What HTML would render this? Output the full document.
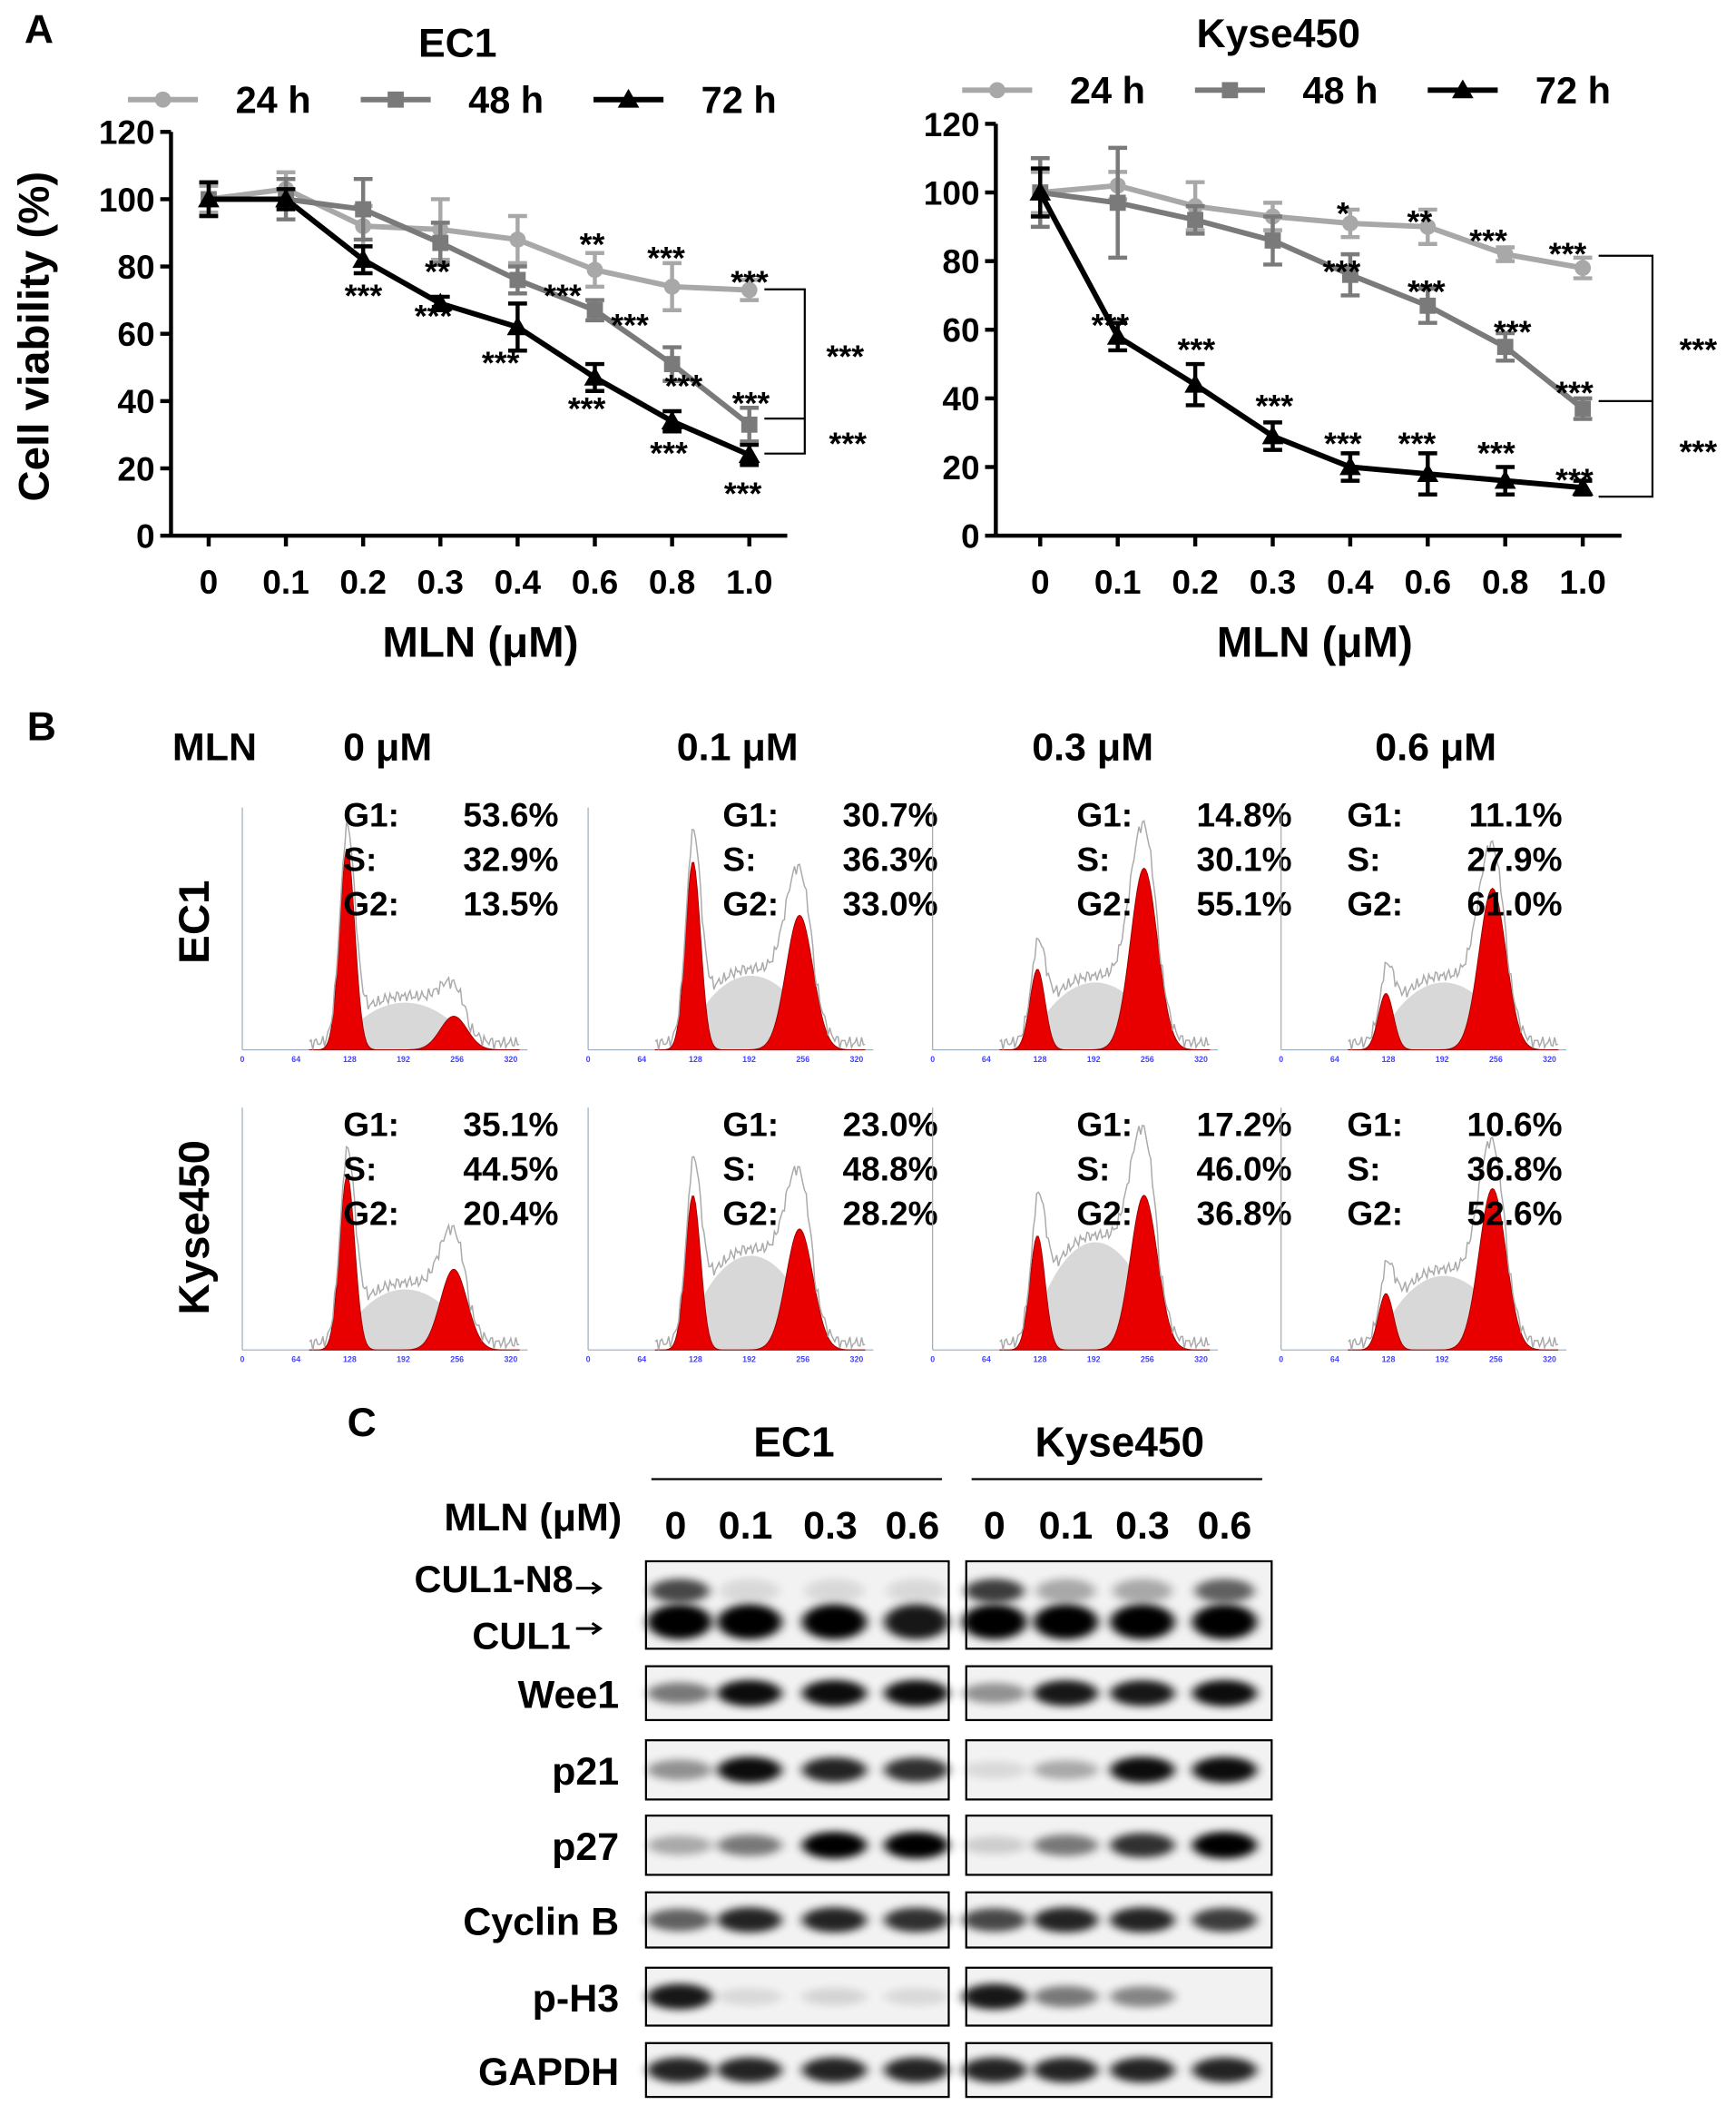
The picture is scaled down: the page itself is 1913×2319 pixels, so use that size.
<!DOCTYPE html>
<html><head><meta charset="utf-8"><style>
html,body{margin:0;padding:0;background:#fff}
svg{display:block}
text{font-family:"Liberation Sans",Arial,sans-serif;font-weight:bold}
</style></head><body>
<svg id="fig" xmlns="http://www.w3.org/2000/svg" width="1913" height="2319" viewBox="0 0 1290 1564">
<defs>
<filter id="blur" x="-50%" y="-100%" width="200%" height="300%"><feGaussianBlur stdDeviation="4 3"/></filter>
</defs>
<g id="panelA"></g>
<g id="panelB"></g>
<g id="panelC"></g>
</svg>
<script>
const NS="http://www.w3.org/2000/svg";
function mk(p,tag,attrs,txt){const e=document.createElementNS(NS,tag);for(const k in attrs)e.setAttribute(k,attrs[k]);if(txt!==undefined)e.textContent=txt;p.appendChild(e);return e;}

// ---- Panel A data ----
const doses=["0","0.1","0.2","0.3","0.4","0.6","0.8","1.0"];
const yTicks=[0,20,40,60,80,100,120];
const ec1_24=[100,103,92,91,88,79,74,73];
const ec1_24e=[4,5,6,9,7,5,7,3];
const ec1_48=[100,100,97,87,76,67,51,33];
const ec1_48e=[5,6,9,6,4,3,5,5];
const ec1_72=[100,100,82,69,62,47,34,24];
const ec1_72e=[5,3,4,2,7,4,3,3];
const ky_24=[100,102,96,93,91,90,82,78];
const ky_24e=[6,4,7,4,4,5,2,3];
const ky_48=[100,97,92,86,76,67,55,37];
const ky_48e=[10,16,4,7,6,5,4,3];
const ky_72=[100,58,44,29,20,18,16,14];
const ky_72e=[7,4,6,4,4,6,4,2];

const A=document.getElementById('panelA');
mk(A,'text',{x:18,y:32,'font-size':30,},'A');

function chart(cfg){
  const g=mk(A,'g',{});
  
  
  const X=i=>cfg.x0+i*cfg.dx, Y=v=>cfg.yb-v*(cfg.yb-cfg.yt)/120;
  mk(g,'text',{x:cfg.titleX,y:cfg.titleY,'font-size':30,'text-anchor':'middle',},cfg.title);
  mk(g,'line',{x1:cfg.ax,y1:Y(120),x2:cfg.ax,y2:cfg.yb,stroke:'#000','stroke-width':3});
  mk(g,'line',{x1:cfg.ax,y1:cfg.yb,x2:cfg.xe,y2:cfg.yb,stroke:'#000','stroke-width':3});
  yTicks.forEach(t=>{mk(g,'line',{x1:cfg.ax-8,y1:Y(t),x2:cfg.ax,y2:Y(t),stroke:'#000','stroke-width':3});
    const tl=mk(g,'text',{x:cfg.ax-12,y:Y(t)+9,'font-size':25,'text-anchor':'end'},t);
    });
  doses.forEach((d,i)=>{mk(g,'line',{x1:X(i),y1:cfg.yb,x2:X(i),y2:cfg.yb+8,stroke:'#000','stroke-width':3});
    const tl=mk(g,'text',{x:X(i),y:cfg.yb+43,'font-size':25,'text-anchor':'middle'},d);
    });
  mk(g,'text',{x:cfg.xlabX,y:cfg.yb+90,'font-size':32,'text-anchor':'middle',},'MLN (μM)');
  const series=[[cfg.s24,cfg.e24,'#a8a8a8','circle','24 h'],[cfg.s48,cfg.e48,'#7a7a7a','square','48 h'],[cfg.s72,cfg.e72,'#000','tri','72 h']];
  series.forEach((s,si)=>{
    const sg=mk(g,'g',{});
    
    
    mk(sg,'polyline',{points:s[0].map((v,i)=>X(i)+','+Y(v)).join(' '),fill:'none',stroke:s[2],'stroke-width':4});
    s[0].forEach((v,i)=>{
      const x=X(i),y1=Y(v+s[1][i]),y2=Y(v-s[1][i]);
      mk(sg,'path',{d:`M${x},${y1}V${y2}M${x-7},${y1}H${x+7}M${x-7},${y2}H${x+7}`,stroke:s[2],'stroke-width':3,fill:'none'});
      marker(sg,s[3],x,Y(v),s[2]);
    });
    const lx=cfg.legX+si*cfg.legDx, ly=cfg.legY;
    const lg=mk(g,'g',{});
    
    
    mk(lg,'line',{x1:lx,y1:ly,x2:lx+52,y2:ly,stroke:s[2],'stroke-width':4});
    marker(lg,s[3],lx+26,ly,s[2]);
    mk(lg,'text',{x:lx+80,y:ly+10,'font-size':28},s[4]);
  });
  cfg.stars.forEach(s=>{const t=mk(g,'text',{x:s[0],y:s[1],'font-size':24,'text-anchor':'middle'},s[2]);});
  cfg.brackets.forEach(b=>mk(g,'path',{d:`M${b[0]},${b[1]}H${b[2]}V${b[3]}H${b[0]}`,fill:'none',stroke:'#000','stroke-width':1.5}));
}
function marker(p,type,x,y,c){
  if(type==='circle')mk(p,'circle',{cx:x,cy:y,r:6,fill:c});
  else if(type==='square')mk(p,'rect',{x:x-6,y:y-6,width:12,height:12,fill:c});
  else mk(p,'path',{d:`M${x},${y-8}L${x+8},${y+6}L${x-8},${y+6}Z`,fill:c});
}
chart({name:'ec1-viability-chart',title:'EC1',titleX:340,titleY:42,ax:127,xe:585,x0:155,dx:57.4,yt:98,yb:398,
  s24:ec1_24,e24:ec1_24e,s48:ec1_48,e48:ec1_48e,s72:ec1_72,e72:ec1_72e,legX:95,legY:74,legDx:173,xlabX:357,
  stars:[[270,228,'***'],[325,210,'**'],[322,243,'***'],[372,278,'***'],[418,228,'***'],[440,190,'**'],[436,312,'***'],[468,250,'***'],[495,200,'***'],[497,345,'***'],[508,295,'***'],[552,375,'***'],[557,218,'***'],[558,308,'***'],[628,273,'***'],[630,338,'***']],
  brackets:[[568,215,598,337],[568,311,598,311]]});
chart({name:'kyse450-viability-chart',title:'Kyse450',titleX:950,titleY:35,ax:740,xe:1205,x0:773,dx:57.6,yt:92,yb:398,
  s24:ky_24,e24:ky_24e,s48:ky_48,e48:ky_48e,s72:ky_72,e72:ky_72e,legX:715,legY:67,legDx:173,xlabX:977,
  stars:[[825,250,'***'],[889,268,'***'],[947,310,'***'],[998,167,'*'],[997,210,'***'],[998,338,'***'],[1055,173,'**'],[1060,225,'***'],[1053,338,'***'],[1106,187,'***'],[1124,255,'***'],[1112,345,'***'],[1165,197,'***'],[1170,300,'***'],[1170,365,'***'],[1262,268,'***'],[1262,344,'***']],
  brackets:[[1188,190,1228,369],[1188,298,1228,298]]});
mk(A,'text',{x:0,y:0,'font-size':32,'text-anchor':'middle',transform:'translate(36,250) rotate(-90)',},'Cell viability (%)');

// ---- Panel B ----
const B=document.getElementById('panelB');
mk(B,'text',{x:20,y:550,'font-size':30,},'B');
mk(B,'text',{x:128,y:565,'font-size':29,},'MLN');
const concs=["0 μM","0.1 μM","0.3 μM","0.6 μM"];
const concX=[288,548,812,1067];
const g1Heights=[[150,140,60,42],[130,115,85,42]];
const g2Heights=[[25,100,135,120],[60,90,115,120]];
const sHeights=[[35,55,50,50],[45,70,80,55]];
const pctG1=[["53.6%","30.7%","14.8%","11.1%"],["35.1%","23.0%","17.2%","10.6%"]];
const pctS=[["32.9%","36.3%","30.1%","27.9%"],["44.5%","48.8%","46.0%","36.8%"]];
const pctG2=[["13.5%","33.0%","55.1%","61.0%"],["20.4%","28.2%","36.8%","52.6%"]];
const colX=[180,437,693,952];
const rowBase=[780,1003];
concs.forEach((c,i)=>{const t=mk(B,'text',{x:concX[i],y:565,'font-size':29,'text-anchor':'middle'},c);});
mk(B,'text',{x:0,y:0,'font-size':32,'text-anchor':'middle',transform:'translate(155,685) rotate(-90)',},'EC1');
mk(B,'text',{x:0,y:0,'font-size':32,'text-anchor':'middle',transform:'translate(155,912) rotate(-90)',},'Kyse450');
function gauss(x,mu,s){return Math.exp(-0.5*((x-mu)/s)**2);}
for(let r=0;r<2;r++)for(let c=0;c<4;c++){
  const h=mk(B,'g',{});
  
  
  const x0=colX[c],base=rowBase[r],w=212,sc=w/340;
  const X=v=>x0+v*sc;
  const g1=g1Heights[r][c],g2=g2Heights[r][c],sh=sHeights[r][c];
  mk(h,'line',{x1:x0,y1:base-180,x2:x0,y2:base,stroke:'#9ab','stroke-width':0.8});
  mk(h,'line',{x1:x0,y1:base,x2:x0+w,y2:base,stroke:'#9ab','stroke-width':0.8});
  [0,64,128,192,256,320].forEach(t=>mk(h,'text',{x:X(t),y:base+9,'font-size':6,fill:'#44f','text-anchor':'middle','font-weight':'normal'},t));
  let sp=[],g1p=[],g2p=[],env=[];
  for(let v=80;v<=330;v+=2){
    let sv=0;
    if(v>118&&v<270){const t=(v-118)/(270-118);sv=sh*Math.pow(Math.sin(Math.PI*t),0.6);}
    const a=g1*gauss(v,125,9), b=g2*gauss(v,252,16);
    sp.push(X(v)+','+(base-sv));
    g1p.push(X(v)+','+(base-a));
    g2p.push(X(v)+','+(base-b));
    const tot=Math.max(sv,0)+a+b;
    env.push(X(v)+','+(base-tot-5*Math.abs(Math.sin(v*0.9))-3*Math.sin(v*2.3)-2));
  }
  mk(h,'polygon',{points:X(80)+','+base+' '+sp.join(' ')+' '+X(330)+','+base,fill:'#d8d8d8'});
  mk(h,'polygon',{points:X(80)+','+base+' '+g1p.join(' ')+' '+X(330)+','+base,fill:'#e80000',stroke:'#900','stroke-width':0.6});
  mk(h,'polygon',{points:X(80)+','+base+' '+g2p.join(' ')+' '+X(330)+','+base,fill:'#e80000',stroke:'#900','stroke-width':0.6});
  mk(h,'polyline',{points:env.join(' '),fill:'none',stroke:'#aaa','stroke-width':1});
  const tx=[255,537,800,1001][c], ty=[614,844][r];
  const vals=[['G1:',pctG1[r][c]],['S:',pctS[r][c]],['G2:',pctG2[r][c]]];
  vals.forEach((v,k)=>{const t=mk(h,'text',{x:tx,y:ty+k*33,'font-size':25},v[0]);
    const t2=mk(h,'text',{x:tx+160,y:ty+k*33,'font-size':25,'text-anchor':'end'},v[1]);});
}

// ---- Panel C ----
const C=document.getElementById('panelC');
mk(C,'text',{x:258,y:1067,'font-size':30,},'C');
mk(C,'text',{x:590,y:1082,'font-size':31,'text-anchor':'middle',},'EC1');
mk(C,'text',{x:832,y:1082,'font-size':31,'text-anchor':'middle',},'Kyse450');
mk(C,'line',{x1:484,y1:1099,x2:700,y2:1099,stroke:'#000','stroke-width':1.5});
mk(C,'line',{x1:722,y1:1099,x2:938,y2:1099,stroke:'#000','stroke-width':1.5});
mk(C,'text',{x:462,y:1137,'font-size':29,'text-anchor':'end',},'MLN (μM)');
const lanes=["0","0.1","0.3","0.6"];
const laneX=[[502,554,617,678],[739,792,849,910]];
lanes.forEach((l,i)=>{for(let s=0;s<2;s++){const t=mk(C,'text',{x:laneX[s][i],y:1143,'font-size':29,'text-anchor':'middle'},l);}});
const proteins=["CUL1","Wee1","p21","p27","Cyclin B","p-H3","GAPDH"];
const rowTop=[1160,1238,1293,1349,1406,1462,1518];
const rowH=[65,40,44,44,41,43,40];
const bandEC1=[[1,1,1,0.9],[0.5,0.95,0.95,0.95],[0.4,0.95,0.85,0.8],[0.3,0.5,1,1],[0.6,0.85,0.85,0.8],[0.9,0.1,0.12,0.1],[0.85,0.85,0.85,0.85]];
const bandKy=[[1,1,1,1],[0.4,0.9,0.9,0.95],[0.1,0.3,0.95,0.95],[0.15,0.5,0.8,1],[0.7,0.85,0.85,0.75],[0.9,0.5,0.45,0],[0.85,0.85,0.85,0.85]];
const n8EC1=[0.7,0.1,0.1,0.1];
const n8Ky=[0.75,0.3,0.3,0.6];
const boxX=[[480,705],[718,945]];
proteins.forEach((p,r)=>{
  const lab=r===0?null:mk(C,'text',{x:460,y:rowTop[r]+rowH[r]/2+11,'font-size':29,'text-anchor':'end'},p);
  if(lab){}
  [bandEC1,bandKy].forEach((bd,s)=>{
    const bg=mk(C,'g',{});
    
    
    const [x1,x2]=boxX[s];
    mk(bg,'rect',{x:x1,y:rowTop[r],width:x2-x1,height:rowH[r],fill:'#f2f2f2',stroke:'#000','stroke-width':1.5});
    const cy=r===0?rowTop[r]+45:rowTop[r]+rowH[r]/2;
    bd[r].forEach((v,i)=>{
      if(v<=0)return;
      const cx=laneX[s][i]+(s?0:3);
      mk(bg,'ellipse',{cx:cx,cy:cy,rx:24,ry:r===0?13:6+4*v,fill:'#000',opacity:v,filter:'url(#blur)'});
      if(r===0){const n8=(s?n8Ky:n8EC1)[i];mk(bg,'ellipse',{cx:cx,cy:rowTop[r]+22,rx:22,ry:9,fill:'#000',opacity:n8,filter:'url(#blur)'});}
    });
  });
});
mk(C,'text',{x:426,y:1183,'font-size':28,'text-anchor':'end',},'CUL1-N8');
mk(C,'text',{x:424,y:1225,'font-size':28,'text-anchor':'end',},'CUL1');
mk(C,'path',{d:'M428,1180H445M440,1176L446,1180L440,1184M428,1210H445M440,1206L446,1210L440,1214',stroke:'#000','stroke-width':2,fill:'none'});
</script>
</body></html>
